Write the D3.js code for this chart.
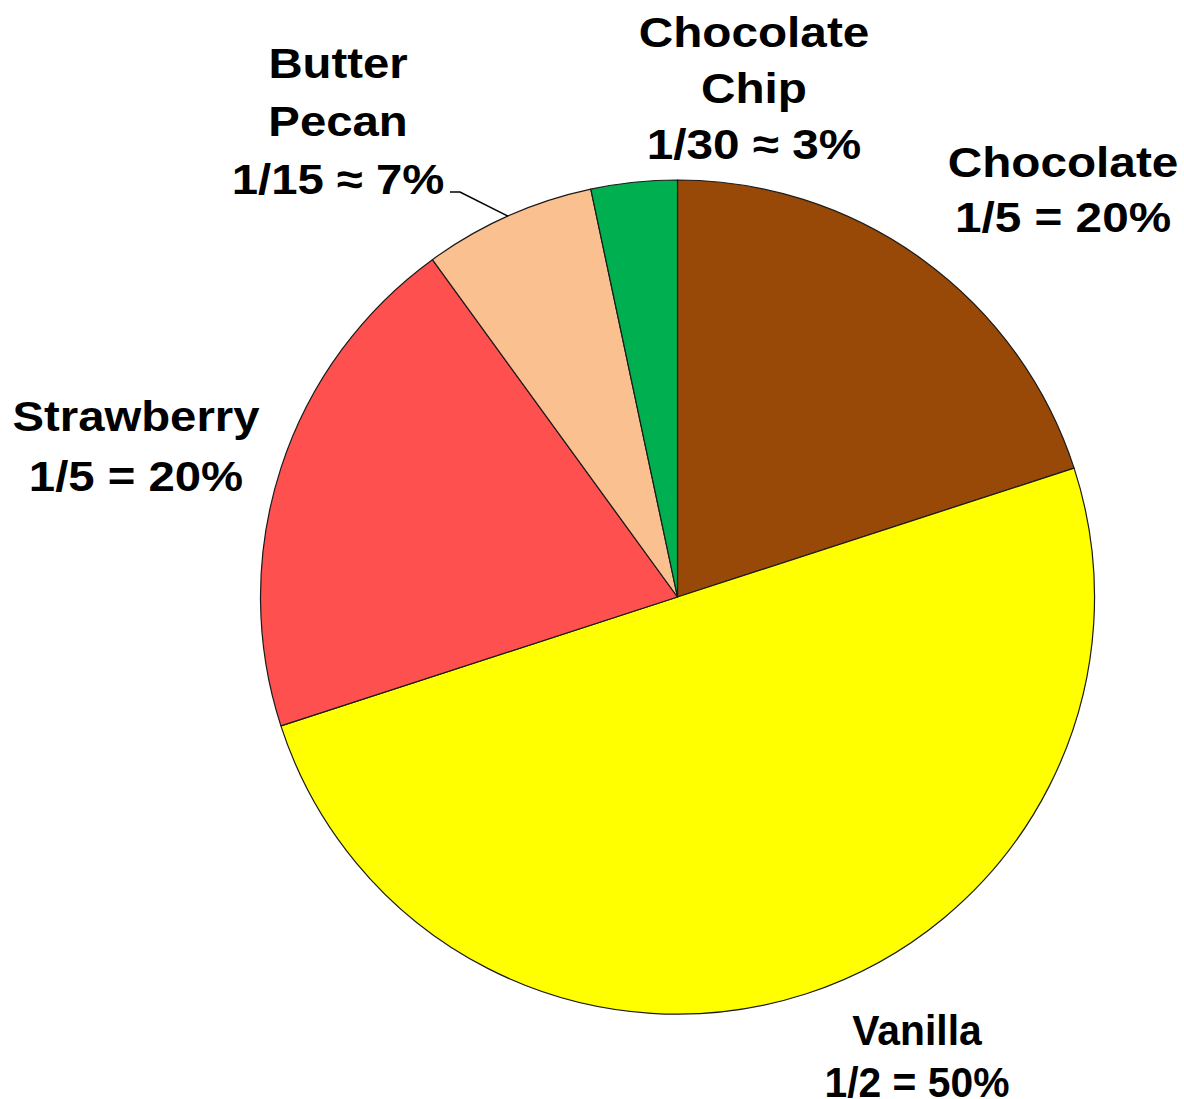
<!DOCTYPE html>
<html>
<head>
<meta charset="utf-8">
<script src="https://cdn.jsdelivr.net/npm/d3@7"></script>
<style>
  html, body { margin: 0; padding: 0; background: #fff; }
  svg { display: block; }
  text { font-family: "Liberation Sans", Arial, sans-serif; font-weight: bold; fill: #000; }
</style>
</head>
<body>
<svg id="chart" width="1184" height="1099"></svg>
<script>
// ---- data ----
const flavors = ["Chocolate", "Vanilla", "Strawberry", "Butter Pecan", "Chocolate Chip"];
const shares = [1/5, 1/2, 1/5, 1/15, 1/30];
const fractionLabels = ["1/5 = 20%", "1/2 = 50%", "1/5 = 20%", "1/15 \u2248 7%", "1/30 \u2248 3%"];
const nameLines = [["Chocolate"], ["Vanilla"], ["Strawberry"], ["Butter", "Pecan"], ["Chocolate", "Chip"]];
const colors = ["#984807", "#FFFF00", "#FF5050", "#FAC090", "#00B050"];

// ---- layout ----
const cx = 677.5, cy = 597, R = 417;
const fontSize = 43;
// label anchor (center x, baseline of first line), line step, horizontal scale
const labelLayout = [
  { x: 1063, y: 177, step: 55, sx: 1.11 },
  { x: 917, y: 1045, step: 52, sx: 0.95 },
  { x: 136, y: 431, step: 60, sx: 1.10 },
  { x: 338, y: 78, step: 58, sx: 1.10 },
  { x: 754, y: 47, step: 56, sx: 1.11 }
];

const svg = d3.select("#chart");
const g = svg.append("g").attr("transform", `translate(${cx},${cy})`);

const pie = d3.pie().sort(null).value(d => d).startAngle(0).endAngle(2 * Math.PI);
const arcs = pie(shares);
const arc = d3.arc().innerRadius(0).outerRadius(R);

g.selectAll("path.slice")
  .data(arcs)
  .enter().append("path")
  .attr("class", "slice")
  .attr("d", arc)
  .attr("fill", (d, i) => colors[i])
  .attr("stroke", "#1a1a1a")
  .attr("stroke-width", 1.2)
  .attr("stroke-linejoin", "round");

// labels
flavors.forEach((f, i) => {
  const L = labelLayout[i];
  const lines = nameLines[i].concat([fractionLabels[i]]);
  const t = svg.append("text")
    .attr("text-anchor", "middle")
    .attr("font-size", fontSize)
    .attr("transform", `translate(${L.x},${L.y}) scale(${L.sx},1)`);
  lines.forEach((ln, j) => {
    t.append("tspan")
      .attr("x", 0)
      .attr("y", j * L.step)
      .text(ln);
  });
});

// leader line for Butter Pecan
const bp = arcs[3];
const mid = (bp.startAngle + bp.endAngle) / 2;
const ex = cx + R * Math.sin(mid), ey = cy - R * Math.cos(mid);
svg.append("polyline")
  .attr("points", `${450},${192} ${460},${192} ${ex},${ey}`)
  .attr("fill", "none")
  .attr("stroke", "#000")
  .attr("stroke-width", 1.5);
</script>
</body>
</html>
